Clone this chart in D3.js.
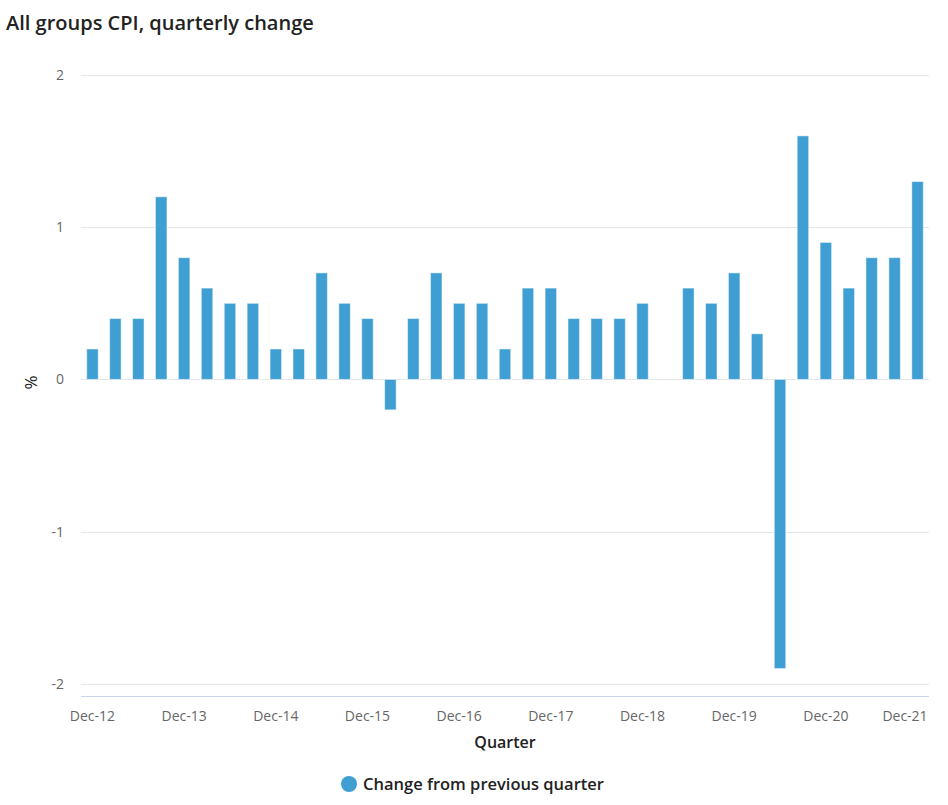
<!DOCTYPE html>
<html>
<head>
<meta charset="utf-8">
<script src="https://cdn.jsdelivr.net/npm/d3@7"></script>
<style>
  body { margin: 0; background: #fff; }
  svg { font-family: "Open Sans", "Noto Sans", sans-serif; }
</style>
</head>
<body>
<script>
const quarters = [
  "Dec-12", "Mar-13", "Jun-13", "Sep-13", "Dec-13", "Mar-14", "Jun-14", "Sep-14",
  "Dec-14", "Mar-15", "Jun-15", "Sep-15", "Dec-15", "Mar-16", "Jun-16", "Sep-16",
  "Dec-16", "Mar-17", "Jun-17", "Sep-17", "Dec-17", "Mar-18", "Jun-18", "Sep-18",
  "Dec-18", "Mar-19", "Jun-19", "Sep-19", "Dec-19", "Mar-20", "Jun-20", "Sep-20",
  "Dec-20", "Mar-21", "Jun-21", "Sep-21", "Dec-21"
];
const changeValues = [
  0.2, 0.4, 0.4, 1.2, 0.8, 0.6, 0.5, 0.5,
  0.2, 0.2, 0.7, 0.5, 0.4, -0.2, 0.4, 0.7,
  0.5, 0.5, 0.2, 0.6, 0.6, 0.4, 0.4, 0.4,
  0.5, 0.0, 0.6, 0.5, 0.7, 0.3, -1.9, 1.6,
  0.9, 0.6, 0.8, 0.8, 1.3
];
const yTicks = [-2, -1, 0, 1, 2];
const xTickLabels = ["Dec-12", "Dec-13", "Dec-14", "Dec-15", "Dec-16", "Dec-17", "Dec-18", "Dec-19", "Dec-20", "Dec-21"];
const seriesName = "Change from previous quarter";

const width = 948, height = 805;
const plot = {left: 81, right: 929, top: 75, bottom: 696};
const barColor = "#3f9fd3";

const svg = d3.select("body").append("svg")
  .attr("width", width)
  .attr("height", height);

const x = d3.scaleBand()
  .domain(quarters)
  .range([plot.left, plot.right]);

const y = d3.scaleLinear()
  .domain([-2.08, 2])
  .range([plot.bottom, plot.top]);

// title
svg.append("text")
  .attr("x", 6)
  .attr("y", 30)
  .attr("font-size", 20)
  .attr("font-weight", 600)
  .attr("fill", "#222")
  .text("All groups CPI, quarterly change");

// gridlines
svg.append("g")
  .selectAll("line")
  .data(yTicks)
  .join("line")
    .attr("x1", plot.left)
    .attr("x2", plot.right)
    .attr("y1", d => Math.round(y(d)) + 0.5)
    .attr("y2", d => Math.round(y(d)) + 0.5)
    .attr("stroke", "#e6e6e6");

// y axis labels
svg.append("g")
  .selectAll("text")
  .data(yTicks)
  .join("text")
    .attr("x", 64)
    .attr("y", d => y(d) + 5)
    .attr("text-anchor", "end")
    .attr("font-size", 14)
    .attr("fill", "#666")
    .text(d => d);

// bars
const barW = 11.5;
svg.append("g")
  .selectAll("rect")
  .data(quarters.map((q, i) => ({q, v: changeValues[i]})))
  .join("rect")
    .attr("x", d => x(d.q) + x.bandwidth() / 2 - barW / 2)
    .attr("width", barW)
    .attr("y", d => y(Math.max(0, d.v)))
    .attr("height", d => Math.abs(y(d.v) - y(0)))
    .attr("fill", barColor)
    .attr("stroke", "#fff")
    .attr("stroke-opacity", 0.5)
    .attr("stroke-width", 1);

// x axis line
svg.append("line")
  .attr("x1", plot.left)
  .attr("x2", plot.right)
  .attr("y1", plot.bottom + 0.5)
  .attr("y2", plot.bottom + 0.5)
  .attr("stroke", "#ccd6eb");

// x tick labels
svg.append("g")
  .selectAll("text")
  .data(xTickLabels)
  .join("text")
    .attr("x", d => Math.min(x(d) + x.bandwidth() / 2, plot.right - 24))
    .attr("y", 721)
    .attr("text-anchor", "middle")
    .attr("font-size", 14)
    .attr("fill", "#666")
    .text(d => d);

// axis titles
svg.append("text")
  .attr("x", (plot.left + plot.right) / 2)
  .attr("y", 748)
  .attr("text-anchor", "middle")
  .attr("font-size", 16)
  .attr("font-weight", 600)
  .attr("fill", "#222")
  .text("Quarter");

svg.append("text")
  .attr("transform", `translate(37,${y(0) + 3}) rotate(-90)`)
  .attr("text-anchor", "middle")
  .attr("font-size", 17)
  .attr("fill", "#222")
  .text("%");

// legend
const legend = svg.append("g").attr("transform", "translate(349,784)");
legend.append("circle")
  .attr("r", 8)
  .attr("fill", barColor);
legend.append("text")
  .attr("x", 14)
  .attr("y", 6)
  .attr("font-size", 16.5)
  .attr("font-weight", 600)
  .attr("fill", "#222")
  .text(seriesName);
</script>
</body>
</html>
